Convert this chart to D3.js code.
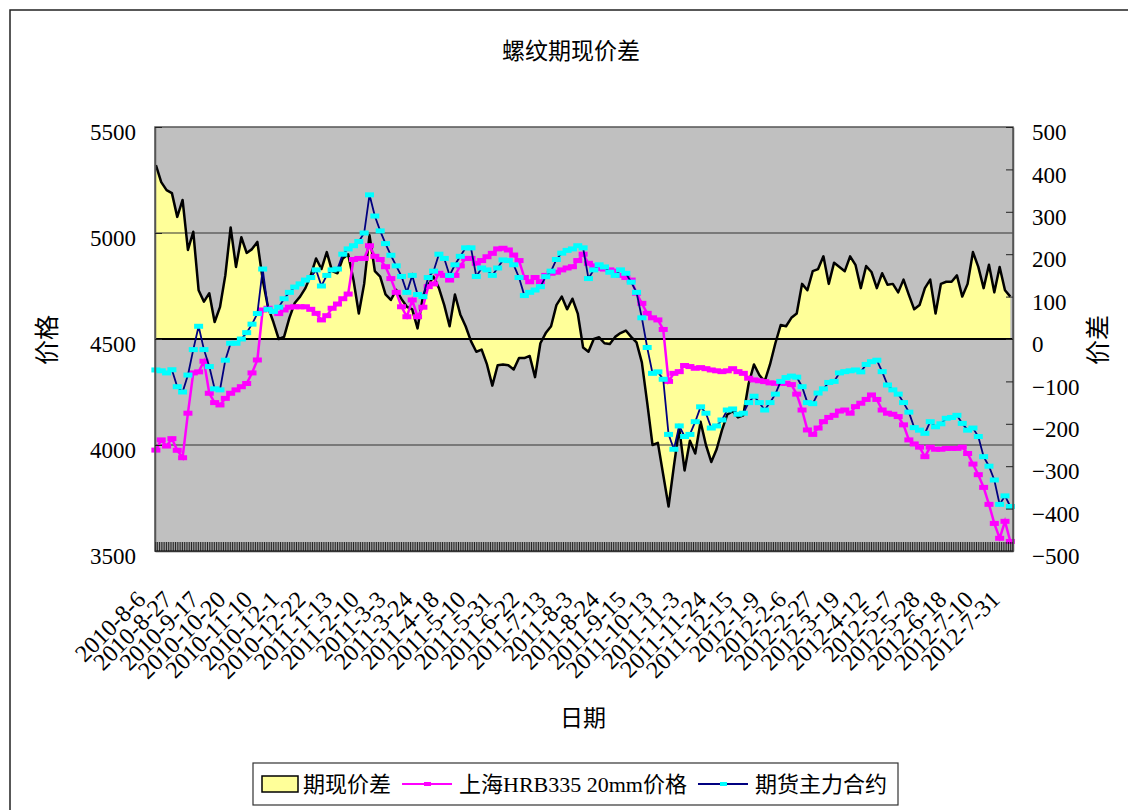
<!DOCTYPE html>
<html>
<head>
<meta charset="utf-8">
<script src="https://cdn.jsdelivr.net/npm/d3@7"></script>
<style>
body { margin: 0; background: #fff; }
text { font-family: "Liberation Serif", "Noto Sans CJK SC", serif; fill: #000; }
</style>
</head>
<body>
<div id="chart"></div>
<script>
// x axis: one category per trading day, a label every 15 days
var tickLabels = ["2010-8-6","2010-8-27","2010-9-17","2010-10-20","2010-11-10","2010-12-1","2010-12-22",
    "2011-1-13","2011-2-10","2011-3-3","2011-3-24","2011-4-18","2011-5-10","2011-5-31","2011-6-22",
    "2011-7-13","2011-8-3","2011-8-24","2011-9-15","2011-10-13","2011-11-3","2011-11-24","2011-12-15",
    "2012-1-9","2012-2-6","2012-2-27","2012-3-19","2012-4-12","2012-5-7","2012-5-28","2012-6-18",
    "2012-7-10","2012-7-31"];
var nCategories = 482,
    labelEvery = 15,
    sampleEvery = 3;

// 期现价差 (right axis)
var spread = [410,370,351,344,288,328,210,253,115,88,
    108,40,75,150,263,170,240,203,212,229,
    140,75,40,0,5,50,85,100,120,150,
    190,165,205,160,155,190,200,139,60,130,
    245,160,147,105,92,116,94,76,70,25,
    100,128,147,120,80,30,105,58,30,-5,
    -30,-25,-60,-110,-62,-60,-62,-72,-45,-45,
    -40,-90,-10,14,30,80,100,70,95,60,
    -20,-30,0,4,-10,-12,5,14,20,5,
    -8,-55,-150,-250,-245,-320,-395,-300,-210,-310,
    -240,-270,-195,-250,-290,-260,-215,-178,-170,-185,
    -180,-105,-60,-85,-100,-60,-10,33,30,50,
    60,130,115,160,165,195,130,180,170,160,
    195,175,120,172,158,120,155,128,130,110,
    140,104,70,80,120,140,60,130,135,135,
    150,100,130,205,170,120,175,110,170,115,
    100];

// 上海HRB335 20mm价格 (left axis)
var spot = [3976,4024,3995,4030,3975,3940,4150,4340,4345,4395,
    4244,4200,4189,4220,4244,4260,4275,4290,4340,4401,
    4637,4645,4630,4620,4637,4650,4652,4652,4652,4640,
    4621,4590,4610,4645,4665,4690,4712,4875,4880,4880,
    4940,4890,4875,4841,4785,4720,4652,4605,4684,4605,
    4650,4747,4760,4810,4800,4778,4800,4845,4880,4880,
    4857,4870,4888,4904,4925,4928,4920,4896,4870,4790,
    4770,4790,4770,4800,4810,4815,4826,4835,4841,4870,
    4900,4857,4845,4833,4830,4826,4820,4800,4790,4778,
    4716,4668,4621,4600,4590,4545,4300,4338,4346,4375,
    4370,4362,4365,4360,4354,4350,4346,4350,4360,4346,
    4338,4315,4307,4303,4299,4293,4291,4291,4291,4285,
    4240,4165,4071,4050,4080,4110,4130,4140,4160,4165,
    4150,4181,4197,4215,4236,4215,4165,4150,4145,4134,
    4095,4024,4005,3990,3945,3990,3980,3980,3984,3984,
    3984,3990,3960,3910,3860,3800,3720,3630,3560,3640,
    3545];

// 期货主力合约 (left axis)
var futures = [4354,4350,4340,4355,4275,4250,4330,4450,4560,4450,
    4370,4265,4260,4400,4480,4480,4500,4530,4570,4620,
    4830,4640,4630,4650,4690,4720,4745,4760,4778,4790,
    4826,4750,4800,4826,4830,4900,4925,4940,4960,5000,
    5180,5080,5010,4950,4895,4845,4795,4720,4800,4710,
    4700,4790,4820,4900,4880,4800,4850,4890,4930,4930,
    4795,4835,4826,4800,4835,4873,4870,4850,4790,4705,
    4720,4731,4747,4794,4820,4875,4905,4918,4925,4940,
    4930,4785,4826,4850,4840,4815,4800,4826,4810,4768,
    4720,4600,4460,4338,4345,4310,4050,3980,4090,4040,
    4050,4110,4180,4150,4080,4090,4118,4165,4170,4145,
    4150,4200,4230,4200,4165,4200,4240,4300,4318,4325,
    4320,4275,4200,4195,4245,4265,4295,4300,4340,4346,
    4350,4354,4345,4380,4393,4400,4346,4283,4260,4240,
    4200,4155,4082,4070,4055,4110,4086,4100,4126,4130,
    4140,4102,4070,4080,4040,3945,3900,3835,3720,3760,
    3710];

var leftTicks = [3500, 4000, 4500, 5000, 5500],
    rightTicks = d3.range(-500, 501, 100),
    gridValues = [5000, 4500, 4000];

var width = 1128,
    height = 810,
    plotLeft = 155,
    plotRight = 1013,
    plotTop = 127,
    plotBottom = 551;

var svg = d3.select('#chart')
    .append('svg')
    .attr('width', width)
    .attr('height', height);

// chart frame
svg.append('rect')
    .attr('x', 10).attr('y', 10)
    .attr('width', 1140).attr('height', 830)
    .attr('fill', '#fff')
    .attr('stroke', '#222')
    .attr('stroke-width', 1.5);

var x = d3.scaleBand()
    .domain(d3.range(nCategories))
    .range([plotLeft, plotRight]);
var yLeft = d3.scaleLinear().domain([3500, 5500]).range([plotBottom, plotTop]);
var yRight = d3.scaleLinear().domain([-500, 500]).range([plotBottom, plotTop]);

function cx(d, k) { return x(k * sampleEvery) + x.bandwidth() / 2; }

// plot area
svg.append('rect')
    .attr('x', plotLeft).attr('y', plotTop)
    .attr('width', plotRight - plotLeft).attr('height', plotBottom - plotTop)
    .attr('fill', '#C0C0C0');

// spread area, filled down to 0
var area = d3.area()
    .x(cx)
    .y0(yRight(0))
    .y1(function (d) { return yRight(d); });
svg.append('path')
    .datum(spread)
    .attr('d', area)
    .attr('fill', '#FFFF99');

// gridlines
svg.append('g')
    .selectAll('line')
    .data(gridValues)
    .enter()
    .append('line')
    .attr('x1', plotLeft).attr('x2', plotRight)
    .attr('y1', function (d) { return yLeft(d); })
    .attr('y2', function (d) { return yLeft(d); })
    .attr('stroke', function (d) { return d === 4500 ? '#000' : '#333'; })
    .attr('stroke-width', function (d) { return d === 4500 ? 2 : 1.2; });

svg.append('path')
    .datum(spread)
    .attr('d', d3.line().x(cx).y(function (d) { return yRight(d); }))
    .attr('fill', 'none')
    .attr('stroke', '#000')
    .attr('stroke-width', 2.5)
    .attr('stroke-linejoin', 'round');

// spot price
svg.append('path')
    .datum(spot)
    .attr('d', d3.line().x(cx).y(function (d) { return yLeft(d); }))
    .attr('fill', 'none')
    .attr('stroke', '#FF00FF')
    .attr('stroke-width', 2.5);
svg.append('g')
    .selectAll('rect')
    .data(spot)
    .enter()
    .append('rect')
    .attr('x', function (d, k) { return cx(d, k) - 4.5; })
    .attr('y', function (d) { return yLeft(d) - 2.5; })
    .attr('width', 9).attr('height', 5)
    .attr('fill', '#FF00FF');

// futures main contract
svg.append('path')
    .datum(futures)
    .attr('d', d3.line().x(cx).y(function (d) { return yLeft(d); }))
    .attr('fill', 'none')
    .attr('stroke', '#000080')
    .attr('stroke-width', 1.8);
svg.append('g')
    .selectAll('rect')
    .data(futures)
    .enter()
    .append('rect')
    .attr('x', function (d, k) { return cx(d, k) - 4.5; })
    .attr('y', function (d) { return yLeft(d) - 2.5; })
    .attr('width', 9).attr('height', 5)
    .attr('fill', '#00FFFF');

// plot border
svg.append('rect')
    .attr('x', plotLeft).attr('y', plotTop)
    .attr('width', plotRight - plotLeft).attr('height', plotBottom - plotTop)
    .attr('fill', 'none')
    .attr('stroke', '#555')
    .attr('stroke-width', 1.5);

// axes
var leftAxis = svg.append('g')
    .attr('transform', 'translate(' + plotLeft + ',0)')
    .call(d3.axisLeft(yLeft).tickValues(leftTicks).tickSize(-7).tickSizeOuter(0).tickPadding(19).tickFormat(d3.format('d')));
var rightAxis = svg.append('g')
    .attr('transform', 'translate(' + plotRight + ',0)')
    .call(d3.axisRight(yRight).tickValues(rightTicks).tickSize(-7).tickSizeOuter(0).tickPadding(19));
[leftAxis, rightAxis].forEach(function (a) {
    a.select('.domain').attr('stroke', '#555').attr('stroke-width', 1.5);
    a.selectAll('.tick line').attr('stroke', '#222');
    a.selectAll('.tick text')
        .attr('dy', '0.55em')
        .style('font-family', '"Liberation Serif", serif')
        .style('font-size', '23px')
        .attr('fill', '#000');
});

var bottomAxis = svg.append('g')
    .attr('transform', 'translate(0,' + plotBottom + ')')
    .call(d3.axisBottom(x).tickValues(d3.range(nCategories)).tickSize(-9).tickSizeOuter(0).tickFormat(''));
bottomAxis.select('.domain').attr('stroke', '#333').attr('stroke-width', 1.5);
bottomAxis.selectAll('.tick line').attr('stroke', '#111').attr('stroke-width', 0.9);

// rotated date labels
svg.append('g')
    .selectAll('text')
    .data(tickLabels)
    .enter()
    .append('text')
    .attr('text-anchor', 'end')
    .style('font-size', '24px')
    .attr('transform', function (d, j) {
        var px = x(j * labelEvery) + x.bandwidth() / 2 - 9;
        return 'translate(' + px + ',601) rotate(-45)';
    })
    .text(function (d) { return d; });

// titles
svg.append('text')
    .attr('x', 571).attr('y', 59)
    .attr('text-anchor', 'middle')
    .style('font-size', '23px')
    .text('螺纹期现价差');
svg.append('text')
    .attr('x', 583).attr('y', 726)
    .attr('text-anchor', 'middle')
    .style('font-size', '23px')
    .text('日期');
svg.append('text')
    .attr('transform', 'translate(56,340) rotate(-90)')
    .attr('text-anchor', 'middle')
    .style('font-size', '25px')
    .text('价格');
svg.append('text')
    .attr('transform', 'translate(1107,340) rotate(-90)')
    .attr('text-anchor', 'middle')
    .style('font-size', '25px')
    .text('价差');

// legend
var legendItems = [
    {label: '期现价差', kind: 'area'},
    {label: '上海HRB335 20mm价格', kind: 'line', stroke: '#FF00FF', marker: '#FF00FF'},
    {label: '期货主力合约', kind: 'line', stroke: '#000080', marker: '#00FFFF'}
];
var legend = svg.append('g');
var legendBox = legend.append('rect');
var ly = 784, lx = 262;
legendItems.forEach(function (it) {
    if (it.kind === 'area') {
        legend.append('rect')
            .attr('x', lx).attr('y', ly - 8)
            .attr('width', 36).attr('height', 16)
            .attr('fill', '#FFFF99')
            .attr('stroke', '#000').attr('stroke-width', 1.5);
        lx += 41;
    } else {
        legend.append('line')
            .attr('x1', lx).attr('x2', lx + 50)
            .attr('y1', ly).attr('y2', ly)
            .attr('stroke', it.stroke).attr('stroke-width', 2);
        legend.append('rect')
            .attr('x', lx + 22).attr('y', ly - 2)
            .attr('width', 7).attr('height', 4)
            .attr('fill', it.marker);
        lx += 57;
    }
    var t = legend.append('text')
        .attr('x', lx).attr('y', ly + 8)
        .style('font-size', '22px')
        .text(it.label);
    lx += t.node().getComputedTextLength() + 11;
});
legendBox
    .attr('x', 253).attr('y', 763)
    .attr('width', lx - 253).attr('height', 42)
    .attr('fill', '#fff')
    .attr('stroke', '#333')
    .attr('stroke-width', 1.2);
</script>
</body>
</html>
